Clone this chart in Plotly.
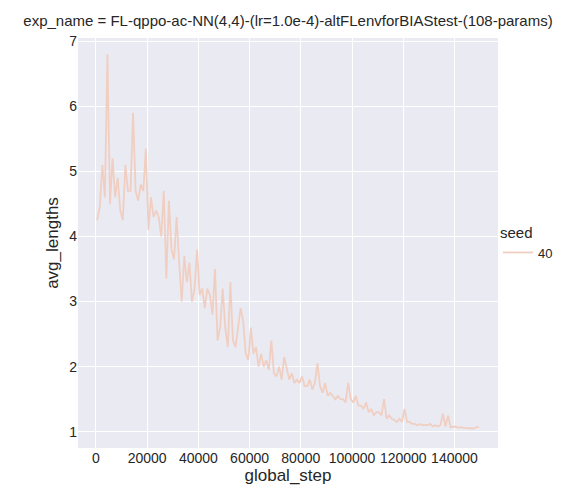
import plotly.graph_objects as go

global_step = list(range(500, 150500, 1000))
avg_lengths = [
    4.25, 4.45, 5.1, 4.6, 6.8, 4.5, 5.2, 4.6, 4.9, 4.4,
    4.25, 5.1, 4.7, 4.7, 5.9, 4.7, 4.55, 4.8, 4.7, 5.35,
    4.1, 4.6, 4.3, 4.4, 4.3, 4.0, 4.7, 3.35, 4.55, 3.8,
    3.65, 4.3, 3.6, 3.0, 3.7, 3.3, 3.6, 3.0, 3.2, 3.8,
    3.1, 3.2, 2.9, 3.2, 3.1, 2.8, 3.5, 2.4, 2.6, 3.2,
    2.6, 2.3, 3.3, 2.4, 2.3, 2.6, 2.9, 2.7, 2.2, 2.1,
    2.6, 2.2, 2.3, 2.0, 2.2, 2.0, 2.1, 1.95, 2.4, 1.9,
    1.85, 2.0, 1.8, 2.15, 1.95, 1.8, 1.9, 1.75, 1.8, 1.75,
    1.85, 1.7, 1.7, 1.8, 1.65, 1.75, 2.05, 1.7, 1.6, 1.75,
    1.55, 1.6, 1.55, 1.5, 1.55, 1.5, 1.5, 1.45, 1.75, 1.5,
    1.45, 1.55, 1.4, 1.4, 1.35, 1.45, 1.3, 1.35, 1.25, 1.3,
    1.3, 1.25, 1.5, 1.2, 1.25, 1.2, 1.18, 1.15, 1.2, 1.15,
    1.35, 1.15, 1.15, 1.12, 1.12, 1.1, 1.12, 1.1, 1.1, 1.1,
    1.12, 1.08, 1.1, 1.08, 1.1, 1.28, 1.08, 1.25, 1.07, 1.07,
    1.08, 1.06, 1.07, 1.06, 1.06, 1.05, 1.06, 1.05, 1.07, 1.07,
]
seed = "40"

fig = go.Figure()
fig.add_trace(go.Scatter(
    x=global_step, y=avg_lengths, mode='lines', name=seed,
    line=dict(color='#f0cfc2', width=1.8), showlegend=True
))

fig.update_layout(
    width=572, height=500,
    font=dict(family='Liberation Sans', size=14, color='#262626'),
    plot_bgcolor='#eaeaf2', paper_bgcolor='white',
    margin=dict(l=70, r=82, t=30, b=60),
    title=dict(text='exp_name = FL-qppo-ac-NN(4,4)-(lr=1.0e-4)-altFLenvforBIAStest-(108-params)',
               x=0.5, xref='paper', xanchor='center', y=0.985, font=dict(size=15)),
    showlegend=True,
    legend=dict(title=dict(text='seed', font=dict(size=15)), x=1.0, y=0.5,
                yanchor='middle', bgcolor='white', font=dict(size=13)),
    xaxis=dict(title=dict(text='global_step', standoff=4), range=[-7000, 157000],
               tickvals=list(range(0, 140001, 20000)), tickformat='d', gridcolor='white',
               gridwidth=1.2, zeroline=False, showline=False, ticks=''),
    yaxis=dict(title=dict(text='avg_lengths', standoff=6), range=[0.75, 7.05],
               tickvals=[1, 2, 3, 4, 5, 6, 7], gridcolor='white',
               gridwidth=1.2, zeroline=False, showline=False, ticks=''),
)

fig.write_html("out.html")
